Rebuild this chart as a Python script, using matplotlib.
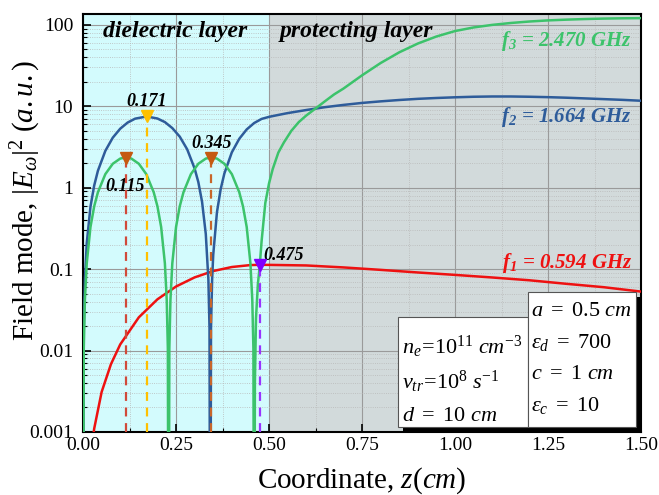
import numpy as np
import matplotlib
matplotlib.use("Agg")
import matplotlib.pyplot as plt
import matplotlib.ticker as ticker
from matplotlib.patches import Rectangle

plt.rcParams['font.family'] = ['Liberation Serif', 'DejaVu Serif']
plt.rcParams['mathtext.fontset'] = 'custom'
plt.rcParams['mathtext.rm'] = 'Liberation Serif'
plt.rcParams['mathtext.it'] = 'Liberation Serif:italic'
plt.rcParams['mathtext.bf'] = 'Liberation Serif:bold'
plt.rcParams['mathtext.bfit'] = 'Liberation Serif:bold:italic'

# field mode |E|^2
z_f1 = [0.0, 0.02, 0.03, 0.05, 0.075, 0.10, 0.15, 0.20, 0.25, 0.30, 0.35, 0.40, 0.45,
        0.475, 0.50, 0.60, 0.70, 0.80, 0.90, 1.00, 1.10, 1.20, 1.30, 1.40, 1.50]
e_f1 = [1e-6, 0.0005, 0.0011, 0.0031, 0.0068, 0.0119, 0.0256, 0.0426, 0.0612, 0.0792,
        0.0948, 0.1062, 0.1122, 0.113, 0.1128, 0.111, 0.105, 0.098, 0.091, 0.085,
        0.079, 0.073, 0.066, 0.060, 0.053]

z_f2 = [0.0, 0.002, 0.005, 0.01, 0.02, 0.03, 0.04, 0.06, 0.08, 0.10, 0.12, 0.14, 0.171,
        0.20, 0.22, 0.24, 0.26, 0.28, 0.30, 0.31, 0.32, 0.33, 0.337, 0.340, 0.342,
        0.344, 0.347, 0.35, 0.36, 0.37, 0.38, 0.40, 0.42, 0.44, 0.46, 0.48, 0.50,
        0.52, 0.55, 0.60, 0.65, 0.70, 0.75, 0.80, 0.85, 0.90, 0.95, 1.00, 1.05, 1.10,
        1.15, 1.20, 1.25, 1.30, 1.35, 1.40, 1.45, 1.50]
e_f2 = [1e-6, 0.0187, 0.074, 0.209, 0.585, 1.064, 1.615, 2.84, 4.12, 5.31, 6.32, 7.05, 7.5,
        7.08, 6.4, 5.4, 4.24, 2.96, 1.72, 1.17, 0.67, 0.27, 0.074, 0.0187, 1e-6,
        0.0187, 0.074, 0.15, 0.50, 0.96, 1.50, 2.72, 3.99, 5.2, 6.23, 7.0, 7.42,
        7.75, 8.25, 9.0, 9.75, 10.4, 11.0, 11.5, 11.95, 12.35, 12.65, 12.9, 13.1, 13.2,
        13.2, 13.1, 12.95, 12.75, 12.5, 12.25, 12.0, 11.7]

z_f3 = [0.0, 0.002, 0.005, 0.01, 0.02, 0.03, 0.04, 0.06, 0.08, 0.10, 0.115, 0.13, 0.15,
        0.17, 0.19, 0.20, 0.21, 0.22, 0.225, 0.228, 0.23, 0.232, 0.235, 0.24, 0.25, 0.26,
        0.27, 0.29, 0.31, 0.33, 0.345, 0.36, 0.38, 0.40, 0.42, 0.43, 0.44, 0.45, 0.455,
        0.458, 0.46, 0.462, 0.465, 0.47, 0.475, 0.48, 0.49, 0.50, 0.51, 0.525, 0.54,
        0.56, 0.58, 0.60, 0.625, 0.65, 0.675, 0.70, 0.75, 0.80, 0.85, 0.90, 0.95, 1.00,
        1.05, 1.10, 1.15, 1.20, 1.25, 1.30, 1.35, 1.40, 1.45, 1.50]
e_f3 = [1e-6, 0.0106, 0.042, 0.118, 0.329, 0.591, 0.88, 1.47, 1.97, 2.28, 2.35, 2.28, 1.97,
        1.47, 0.88, 0.591, 0.329, 0.118, 0.042, 0.0106, 1e-6, 0.0106, 0.042, 0.118, 0.329, 0.591,
        0.88, 1.47, 1.97, 2.28, 2.35, 2.28, 1.97, 1.47, 0.88, 0.591, 0.329, 0.118, 0.042,
        0.0106, 1e-6, 0.004, 0.025, 0.065, 0.11, 0.22, 0.65, 1.13, 1.7, 2.7, 3.6,
        5.0, 6.4, 7.7, 9.4, 11.5, 14, 16.5, 24, 34, 46, 59, 72, 84,
        93, 100, 105.5, 110, 113.5, 116, 118, 119.5, 120.5, 121]

# peak / node markers
mark_z = [0.115, 0.171, 0.345, 0.475]
mark_v = [2.35, 7.5, 2.35, 0.113]
mark_txt = ['0.115', '0.171', '0.345', '0.475']
mark_col = ['#c55a11', '#ffc000', '#c55a11', '#8000ff']
dash_col = ['#d04a3a', '#ffc000', '#c8662a', '#9933ff']

YMIN, YMAX = 0.001, 136

fig = plt.figure(figsize=(6.59, 4.95), dpi=100)
ax = fig.add_axes([0.126, 0.1273, 0.8467, 0.8444])

ax.axvspan(0, 0.5, color='#d3fbfd', zorder=0, lw=0)
ax.axvspan(0.5, 1.5, color='#d2dadb', zorder=0, lw=0)

ax.plot(z_f1, e_f1, color='#ee1111', lw=1.8, zorder=3)
ax.plot(z_f2, e_f2, color='#2e5c9a', lw=1.8, zorder=3)
ax.plot(z_f3, e_f3, color='#3cc36b', lw=1.8, zorder=3)

for z, v, c, dc in zip(mark_z, mark_v, mark_col, dash_col):
    ax.vlines(z, YMIN, v, colors=dc, linestyles=(0, (4, 3)), lw=1.6, zorder=4)
    ax.plot(z, v, marker='v', color=c, ms=8.5, zorder=5)

bfi = dict(fontweight='bold', style='italic', fontsize=13)
ax.text(0.171, 11.4, mark_txt[1], ha='center', va='center', **bfi)
ax.text(0.346, 3.5, mark_txt[2], ha='center', va='center', **bfi)
ax.text(0.113, 1.03, mark_txt[0], ha='center', va='center', **bfi)
ax.text(0.485, 0.149, mark_txt[3], ha='left', va='center', **bfi)

ax.text(0.054, 82, 'dielectric layer', ha='left', va='center', fontsize=17,
        fontweight='bold', style='italic')
ax.text(0.53, 82, 'protecting layer', ha='left', va='center', fontsize=17,
        fontweight='bold', style='italic')

ax.text(1.476, 63, r'$\mathbfit{f}_{\mathbfit{3}}$ = 2.470 GHz', color='#3cc36b',
        ha='right', va='center', fontsize=15, fontweight='bold', style='italic')
ax.text(1.476, 7.4, r'$\mathbfit{f}_{\mathbfit{2}}$ = 1.664 GHz', color='#2e5c9a',
        ha='right', va='center', fontsize=15, fontweight='bold', style='italic')
ax.text(1.476, 0.12, r'$\mathbfit{f}_{\mathbfit{1}}$ = 0.594 GHz', color='#ee1111',
        ha='right', va='center', fontsize=15, fontweight='bold', style='italic')

# parameter boxes with shadow
boxes = [(0.5645, 0.012, 0.233, 0.263), (0.7975, 0.012, 0.1935, 0.323)]
for x0, y0, w, h in boxes:
    ax.add_patch(Rectangle((x0 + 0.009, y0 - 0.012), w, h, transform=ax.transAxes,
                           facecolor='black', edgecolor='none', zorder=6))
for x0, y0, w, h in boxes:
    ax.add_patch(Rectangle((x0, y0), w, h, transform=ax.transAxes,
                           facecolor='white', edgecolor='#555555', lw=0.8, zorder=7))

left_lines = [r'$n_e\!=\!10^{11}\ cm^{-3}$', r'$\nu_{tr}\!=\!10^{8}\ s^{-1}$', r'$d\ =\ 10\ cm$']
right_lines = [r'$a\ =\ 0.5\ cm$', r'$\varepsilon_d\ =\ 700$', r'$c\ =\ 1\ cm$', r'$\varepsilon_c\ =\ 10$']
for i, s in enumerate(left_lines):
    ax.text(0.572, 0.203 - i * 0.083, s, transform=ax.transAxes, fontsize=16,
            ha='left', va='center', zorder=8)
for i, s in enumerate(right_lines):
    ax.text(0.803, 0.288 - i * 0.075, s, transform=ax.transAxes, fontsize=16,
            ha='left', va='center', zorder=8)

ax.set_yscale('log')
ax.set_xlim(0, 1.5)
ax.set_ylim(YMIN, YMAX)
ax.set_yticks([0.001, 0.01, 0.1, 1, 10, 100], ['0.001', '0.01', '0.1', '1', '10', '100'])
ax.yaxis.set_minor_locator(ticker.LogLocator(base=10, subs=np.arange(2, 10)))
ax.yaxis.set_minor_formatter(ticker.NullFormatter())
ax.set_xticks(np.arange(0, 1.51, 0.25))
ax.xaxis.set_major_formatter(ticker.FormatStrFormatter('%.2f'))
ax.xaxis.set_minor_locator(ticker.MultipleLocator(0.125))

ax.tick_params(which='both', direction='in', labelsize=14)
ax.tick_params(which='major', length=6, width=1.2)
ax.tick_params(which='minor', length=3, width=0.8)
ax.tick_params(axis='y', which='major', pad=7)
ax.grid(which='major', color='#9a9a9a', lw=0.8, zorder=1)
ax.grid(which='minor', color='#b8b8b8', lw=0.6, ls=':', zorder=1)
ax.set_axisbelow(True)
for sp in ax.spines.values():
    sp.set_linewidth(1.5)

ax.set_xlabel(r'Coordinate, $z(cm)$', fontsize=21, labelpad=8)
ax.set_ylabel(r'Field mode, $|E_{\omega}|^2\ (a.u.)$', fontsize=21)
ax.yaxis.set_label_coords(-0.072, 0.555)

fig.savefig('out.png', dpi=100)
